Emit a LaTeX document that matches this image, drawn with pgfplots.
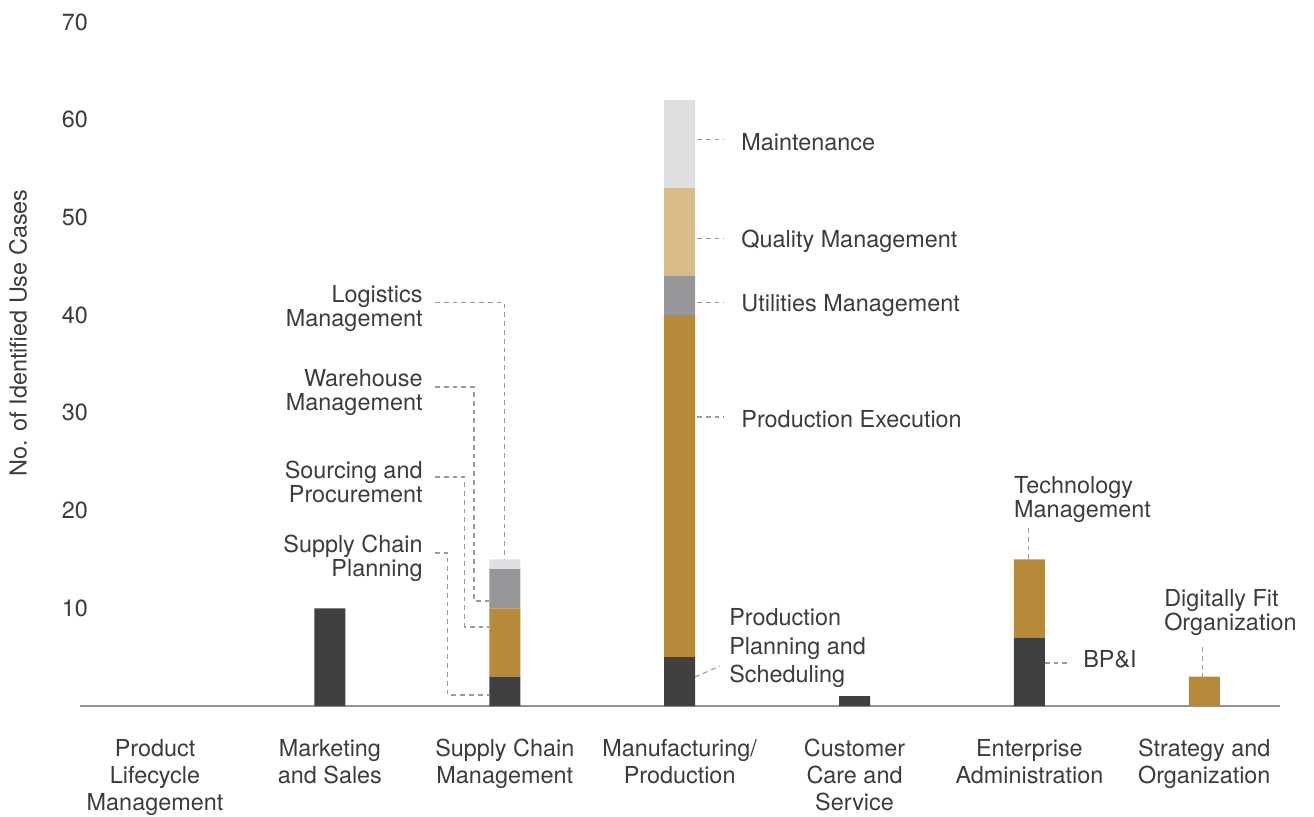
\documentclass[border=0pt]{standalone}
\usepackage{pgfplots}
\pgfplotsset{compat=1.18}
\usepackage{fontspec}
\setmainfont{TeX Gyre Heros}
\definecolor{txt}{HTML}{3C3C3C}
\definecolor{cdark}{HTML}{404040}
\definecolor{cgold}{HTML}{B68A38}
\definecolor{cgrey}{HTML}{96969A}
\definecolor{ctan}{HTML}{D8BC8A}
\definecolor{clight}{HTML}{DFDFE1}
\definecolor{lead}{HTML}{9A9A9A}

\begin{document}
\begin{tikzpicture}[x=1pt,y=1pt,
  lab/.style={font=\fontsize{11.7}{12}\selectfont, inner sep=0pt, text=txt, yshift=-1.2pt},
  lab2/.style={lab, yshift=-1.4pt},
  ld/.style={draw=lead, line width=0.55pt, dash pattern=on 2.4pt off 2pt}]
\useasboundingbox (0,0) rectangle (657,408);
\node[rotate=90, inner sep=0pt, text=txt, font=\fontsize{11.7}{12}\selectfont] at (9,241.5) {No. of Identified Use Cases};
\begin{axis}[at={(40pt,55pt)}, anchor=south west, scale only axis,
  width=600pt, height=342pt,
  xmin=-0.429, xmax=6.433, ymin=0, ymax=70,
  ybar stacked, bar width=15.5pt,
  axis x line*=bottom, axis y line*=left,
  x axis line style={line width=0.9pt, draw=gray!85},
  y axis line style={draw=none},
  xtick={0,...,6}, ytick={10,20,...,70},
  major tick length=0pt,
  xticklabels={{Product\\Lifecycle\\Management},{Marketing\\and Sales},{Supply Chain\\Management},{Manufacturing/\\Production},{Customer\\Care and\\Service},{Enterprise\\Administration},{Strategy and\\Organization}},
  xticklabel style={align=center, text=txt, font=\fontsize{11.7}{13.5}\selectfont, yshift=-13pt},
  yticklabel style={anchor=center, xshift=-2.5pt, text=txt, font=\fontsize{11.7}{12}\selectfont},
  /pgf/number format/assume math mode=true,
  clip=false]
% segments bottom to top
\addplot[fill=cdark, draw=none] coordinates {(0,0) (1,10) (2,3) (3,5) (4,1) (5,7) (6,0)};
\addplot[fill=cgold, draw=none] coordinates {(0,0) (1,0) (2,7) (3,35) (4,0) (5,8) (6,3)};
\addplot[fill=cgrey, draw=none] coordinates {(0,0) (1,0) (2,4) (3,4) (4,0) (5,0) (6,0)};
\addplot[fill=ctan, draw=none] coordinates {(0,0) (1,0) (2,0) (3,9) (4,0) (5,0) (6,0)};
\addplot[fill=clight, draw=none] coordinates {(0,0) (1,0) (2,1) (3,9) (4,0) (5,0) (6,0)};

% supply chain call-outs
\draw[ld] (1.601,41.25) -| (2.0,15);
\node[lab2, anchor=east, align=right] at (1.532,41.25) {Logistics\\Management};
\draw[ld] (1.601,32.65) -| (1.824,10.75) -- (1.911,10.75);
\node[lab2, anchor=east, align=right] at (1.532,32.65) {Warehouse\\Management};
\draw[ld] (1.601,23.44) -| (1.772,8.09) -- (1.911,8.09);
\node[lab2, anchor=east, align=right] at (1.532,23.44) {Sourcing and\\Procurement};
\draw[ld] (1.601,15.66) -| (1.675,1.13) -- (1.911,1.13);
\node[lab2, anchor=east, align=right] at (1.532,15.66) {Supply Chain\\Planning};

% manufacturing call-outs
\draw[ld] (3.099,57.93) -- (3.253,57.93);
\node[lab, anchor=west] at (3.351,57.93) {Maintenance};
\draw[ld] (3.099,47.8) -- (3.253,47.8);
\node[lab, anchor=west] at (3.351,47.8) {Quality Management};
\draw[ld] (3.099,41.25) -- (3.253,41.25);
\node[lab, anchor=west] at (3.351,41.25) {Utilities Management};
\draw[ld] (3.099,29.58) -- (3.253,29.58);
\node[lab, anchor=west] at (3.351,29.58) {Production Execution};
\draw[ld] (3.088,2.97) -- (3.230,4.09);
\node[lab, anchor=west, align=left, font=\fontsize{11.7}{14.2}\selectfont] at (3.282,6.14) {Production\\Planning and\\Scheduling};

% enterprise and strategy
\draw[ld] (4.994,18.22) -- (4.994,15);
\node[lab2, anchor=west, align=left] at (4.911,21.7) {Technology\\Management};
\draw[ld] (5.0886,4.4) -- (5.237,4.4);
\node[lab, anchor=west] at (5.306,5.02) {BP\&I};
\draw[ld] (5.992,6.04) -- (5.992,3);
\node[lab2, anchor=west, align=left] at (5.769,10.13) {Digitally Fit\\Organization};
\end{axis}
\end{tikzpicture}
\end{document}
